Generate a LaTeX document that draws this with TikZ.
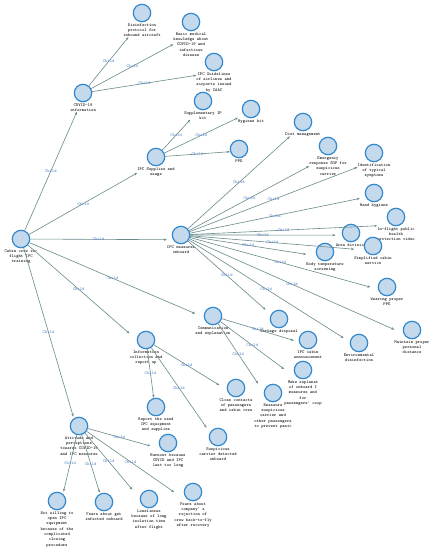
\documentclass[tikz,border=0pt]{standalone}
\usetikzlibrary{arrows.meta,fit,positioning}
\definecolor{dotfill}{RGB}{196,217,236}
\definecolor{dotline}{RGB}{52,136,204}
\definecolor{edgecol}{RGB}{105,138,138}
\definecolor{childcol}{RGB}{80,130,200}
\tikzset{
 dot/.style={circle,draw=dotline,fill=dotfill,line width=1.2pt,minimum size=17.4pt,inner sep=0pt},
 lbl/.style={inner sep=0pt,align=center,font=\ttfamily\fontsize{4.4}{5.33}\selectfont},
 box/.style={inner sep=0pt,outer sep=0pt},
 edge/.style={draw=edgecol,line width=0.6pt,-{Stealth[length=3pt,width=2.4pt]}},
 child/.style={font=\ttfamily\fontsize{4.4}{5.33}\selectfont,text=childcol,inner sep=0pt},
}
\newcommand\gnode[3]{%
 \node[dot] (c#1) at (#2) {};
 \node[lbl, below=1pt of c#1] (l#1) {#3};
 \node[box, fit=(c#1)(l#1)] (#1) {};
}
\newcommand\gedge[2]{\draw[edge] (c#1) -- node[child]{Child} (#2);}
\begin{document}
\begin{tikzpicture}[x=1pt,y=-1pt]
\useasboundingbox[fill=white] (0,0) rectangle (435,550);
\gnode{cabin}{21,239}{Cabin crew in-\\flight IPC\\training}
\gnode{covid}{83,93}{COVID-19\\information}
\gnode{disinf}{142,13}{Disinfection\\protocol for\\inbound aircraft}
\gnode{basic}{191,22}{Basic medical\\knowledge about\\COVID-19 and\\infectious\\disease}
\gnode{guide}{214,62}{IPC Guidelines\\of airlines and\\airports issued\\by CAAC}
\gnode{supp}{156,157}{IPC Supplies and\\usage}
\gnode{suppkit}{203,101}{Supplementary IP\\kit}
\gnode{hyg}{251,109}{Hygiene kit}
\gnode{ppe}{239,149}{PPE}
\gnode{meas}{181,235}{IPC measures\\onboard}
\gnode{diet}{303,122}{Diet management}
\gnode{emerg}{328,146}{Emergency\\response SOP for\\suspicious\\carrier}
\gnode{ident}{374,153}{Identification\\of typical\\symptoms}
\gnode{hand}{374,193}{Hand hygiene}
\gnode{video}{396,217}{In-flight public\\health\\protection video}
\gnode{area}{351,233}{Area division}
\gnode{simpl}{373,246}{Simplified cabin\\service}
\gnode{body}{325,252}{Body temperature\\screening}
\gnode{wear}{387,287}{Wearing proper\\PPE}
\gnode{dist}{412,330}{Maintain proper\\personal\\distance}
\gnode{garb}{279,319}{Garbage disposal}
\gnode{env}{359,343}{Environmental\\disinfection}
\gnode{annc}{308,340}{IPC cabin\\announcement}
\gnode{expl}{303,370}{Make explanat\\of onboard I\\measures and\\for\\passengers' coop}
\gnode{comm}{213,316}{Communication\\and explanation}
\gnode{info}{146,340}{Information\\collection and\\report up}
\gnode{close}{236,388}{Close contacts\\of passengers\\and cabin crew}
\gnode{reass}{273,393}{Reassure\\suspicious\\carrier and\\other passengers\\to prevent panic}
\gnode{report}{156,407}{Report the used\\IPC equipment\\and supplies}
\gnode{susp}{218,437}{Suspicious\\carrier detected\\onboard}
\gnode{att}{79,426}{Attitude and\\perceptions\\towards COVID-19\\and IPC measures}
\gnode{burn}{168,443}{Burnout because\\COVID and IPC\\last too long}
\gnode{notw}{57,501}{Not willing to\\open IPC\\equipment\\because of the\\complicated\\closing\\procedure}
\gnode{fearA}{104,502}{Fears about get\\infected onboard}
\gnode{lone}{149,499}{Loneliness\\because of long\\isolation time\\after flight}
\gnode{fearB}{193,492}{Fears about\\company' s\\rejection of\\crew back-to-fly\\after recovery}
% edges
\gedge{cabin}{covid}
\gedge{cabin}{supp}
\gedge{cabin}{meas}
\gedge{cabin}{comm}
\gedge{cabin}{info}
\gedge{cabin}{att}
\gedge{covid}{disinf}
\gedge{covid}{basic}
\gedge{covid}{guide}
\gedge{supp}{suppkit}
\gedge{supp}{hyg}
\gedge{supp}{ppe}
\gedge{meas}{diet}
\gedge{meas}{emerg}
\gedge{meas}{ident}
\gedge{meas}{hand}
\gedge{meas}{video}
\gedge{meas}{area}
\gedge{meas}{simpl}
\gedge{meas}{body}
\gedge{meas}{wear}
\gedge{meas}{dist}
\gedge{meas}{garb}
\gedge{meas}{env}
\gedge{comm}{annc}
\gedge{comm}{expl}
\gedge{comm}{reass}
\gedge{info}{close}
\gedge{info}{report}
\gedge{info}{susp}
\gedge{att}{burn}
\gedge{att}{notw}
\gedge{att}{fearA}
\gedge{att}{lone}
\gedge{att}{fearB}
\end{tikzpicture}
\end{document}
